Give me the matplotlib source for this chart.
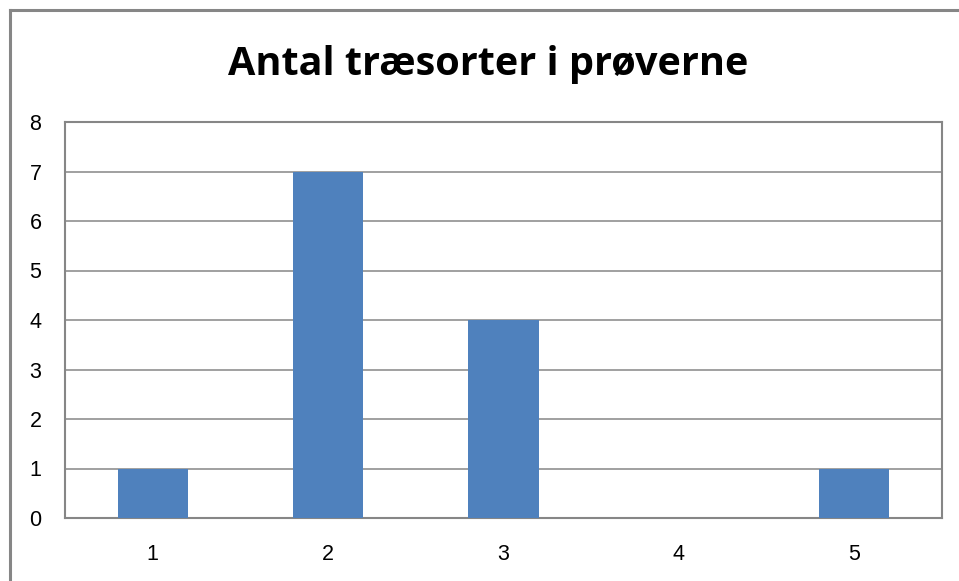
import matplotlib
matplotlib.use('Agg')
import matplotlib.pyplot as plt
from matplotlib.lines import Line2D

categories = ['1', '2', '3', '4', '5']
values = [1, 7, 4, 0, 1]
yticks = [0, 1, 2, 3, 4, 5, 6, 7, 8]
title = 'Antal træsorter i prøverne'

W, H = 959, 581
fig = plt.figure(figsize=(W / 100, H / 100), dpi=100)

# outer chart frame (only left and top edges are visible)
fig.add_artist(Line2D([9.5 / W, 9.5 / W], [0, 1 - 10 / H], color='#868686', lw=2.2))
fig.add_artist(Line2D([9.5 / W, 1], [1 - 10 / H, 1 - 10 / H], color='#868686', lw=2.2))

ax = fig.add_axes([65 / W, 1 - 518 / H, 877 / W, 396 / H])
x = range(len(categories))
ax.bar(x, values, width=0.4, color='#4F81BD', zorder=3)
ax.set_xlim(-0.5, len(categories) - 0.5)
ax.set_ylim(0, 8)
ax.set_yticks(yticks)
ax.set_xticks(list(x))
ax.set_xticklabels(categories)
ax.yaxis.grid(True, color='#868686', lw=1.1, zorder=0)
for s in ax.spines.values():
    s.set_color('#868686')
    s.set_linewidth(1.5)
ax.tick_params(length=0, labelsize=15.5)
ax.tick_params(axis='y', pad=17)
ax.tick_params(axis='x', pad=19)
for lab in ax.get_xticklabels() + ax.get_yticklabels():
    lab.set_family('Liberation Sans')

fig.text(488 / W, 1 - 64 / H, title, ha='center', va='center',
         fontsize=28.5, fontweight='bold', family='Open Sans')

fig.savefig('out.png', dpi=100)
